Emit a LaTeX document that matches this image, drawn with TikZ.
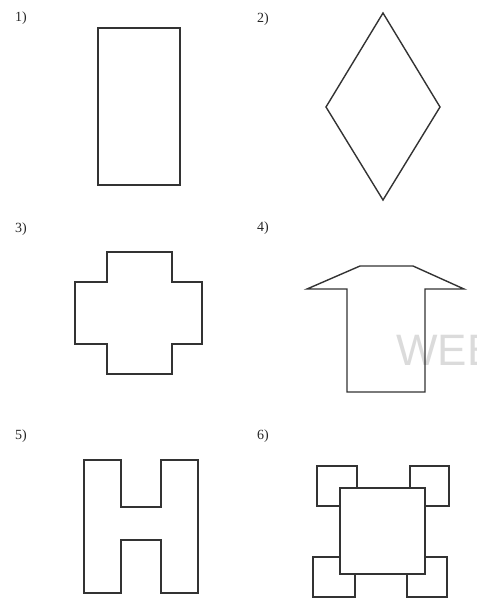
\documentclass[tikz,border=0pt]{standalone}
\usepackage{fontspec}
\setmainfont{Liberation Serif}
\newfontfamily\markfont{Liberation Sans}
\begin{document}
\begin{tikzpicture}[x=1pt,y=-1pt,
  outline/.style={draw=black!80,line width=1.4pt,line join=miter,fill=white},
  figlabel/.style={font=\fontsize{14}{16}\selectfont,text=black!85,inner sep=0pt}]
  \useasboundingbox (0,0) rectangle (477,598);
  % watermark
  \begin{scope}
    \clip (0,0) rectangle (477,598);
    \node[anchor=west,inner sep=0pt,text=black!14,font=\markfont\fontsize{44}{44}\selectfont] (mark) at (396,350) {WEB};
  \end{scope}

  % labels
  \node[figlabel] (l1) at (21,18) {1)};
  \node[figlabel] (l2) at (263,19) {2)};
  \node[figlabel] (l3) at (21,229) {3)};
  \node[figlabel] (l4) at (263,228) {4)};
  \node[figlabel] (l5) at (21,436) {5)};
  \node[figlabel] (l6) at (263,436) {6)};

  % 1) rectangle
  \draw[outline] (98,28) rectangle (180,185);

  % 2) rhombus
  \draw[outline] (383,13) -- (440,107) -- (383,200) -- (326,107) -- cycle;

  % 3) cross
  \draw[outline] (107,252) -- (172,252) -- (172,282) -- (202,282) -- (202,344)
    -- (172,344) -- (172,374) -- (107,374) -- (107,344) -- (75,344)
    -- (75,282) -- (107,282) -- cycle;

  % 4) arrow
  \draw[outline,fill=none] (360,266) -- (413,266) -- (464,289) -- (425,289) -- (425,392)
    -- (347,392) -- (347,289) -- (307,289) -- cycle;

  % 5) H
  \draw[outline] (84,460) -- (121,460) -- (121,507) -- (161,507) -- (161,460)
    -- (198,460) -- (198,593) -- (161,593) -- (161,540) -- (121,540)
    -- (121,593) -- (84,593) -- cycle;

  % 6) square with corners
  \draw[outline] (317,466) rectangle (357,506);
  \draw[outline] (410,466) rectangle (449,506);
  \draw[outline] (313,557) rectangle (355,597);
  \draw[outline] (407,557) rectangle (447,597);
  \draw[outline] (340,488) rectangle (425,574);
\end{tikzpicture}
\end{document}
